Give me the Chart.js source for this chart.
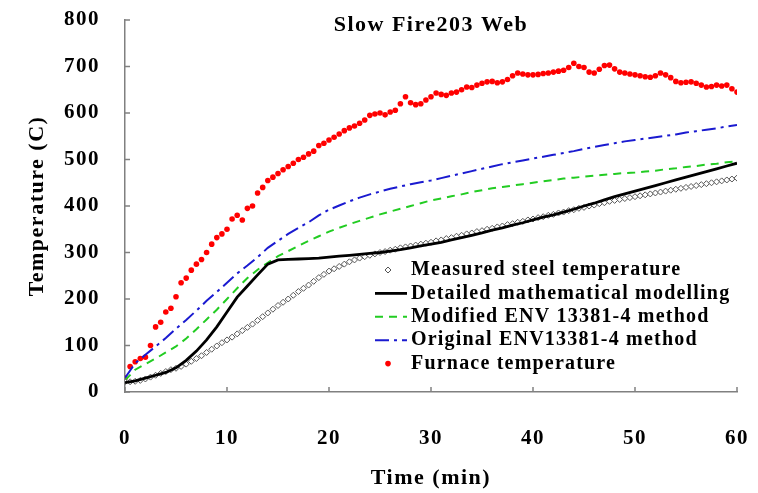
<!DOCTYPE html>
<html>
<head>
<meta charset="utf-8">
<script src="https://cdn.jsdelivr.net/npm/chart.js@4.4.1/dist/chart.umd.min.js"></script>
<style>
  html, body { margin: 0; padding: 0; background: #fff; }
  #wrap { width: 758px; height: 493px; }
</style>
</head>
<body>
<div id="wrap"><canvas id="chart" width="758" height="493"></canvas></div>
<script>
// Slow fire test - web temperature vs time

const chartTitle = "Slow Fire203 Web"
const xTitle = "Time (min)"
const yTitle = "Temperature (C)"
const xTicks = [0, 10, 20, 30, 40, 50, 60]
const yTicks = [0, 100, 200, 300, 400, 500, 600, 700, 800]

const seriesNames = [
  "Measured steel temperature",
  "Detailed mathematical modelling",
  "Modified ENV 13381-4 method",
  "Original ENV13381-4 method",
  "Furnace temperature",
]

// measurements, one reading every half minute
const sampleStep = 0.5
const measuredSteel = [
  22, 22, 23, 25, 28, 32, 36, 40, 44, 48,
  51, 55, 60, 66, 72, 78, 85, 92, 99, 106,
  112, 118, 125, 132, 139, 146, 154, 162, 170, 178,
  186, 193, 200, 208, 216, 223, 230, 238, 246, 253,
  260, 265, 270, 275, 280, 284, 288, 291, 294, 297,
  300, 302, 305, 307, 310, 312, 314, 316, 318, 320,
  322, 325, 327, 330, 332, 335, 337, 340, 342, 345,
  347, 350, 352, 355, 357, 360, 362, 365, 367, 370,
  372, 375, 377, 380, 382, 385, 387, 390, 392, 395,
  397, 400, 402, 405, 407, 410, 412, 414, 416, 418,
  420, 422, 424, 426, 428, 430, 432, 434, 436, 438,
  440, 442, 444, 446, 448, 450, 452, 454, 456, 458,
  460,
]
const furnaceTemp = [
  30, 55, 65, 72, 75, 100, 140, 150, 172, 180,
  205, 235, 245, 262, 275, 285, 300, 318, 332, 340,
  350, 372, 380, 370, 395, 400, 428, 440, 455, 462,
  470, 478, 485, 492, 500, 505, 512, 518, 530, 535,
  542, 548, 555, 562, 568, 572, 578, 585, 595, 598,
  600, 596, 602, 606, 620, 635, 622, 618, 620, 628,
  635, 643, 640, 638, 643, 645, 650, 656, 655, 660,
  664, 667, 668, 665, 667, 672, 680, 686, 684, 682,
  682, 683, 685, 686, 688, 690, 692, 698, 707, 700,
  698, 688, 686, 694, 702, 703, 695, 688, 686, 684,
  682, 680, 678, 677, 680, 686, 682, 676, 668, 665,
  666, 667, 664, 660, 656, 657, 660, 658, 660, 652,
  645,
]

// model results, one value per minute
const modelStep = 1
const detailedModel = [
  20, 24, 30, 36, 42, 52, 68, 88, 112, 140,
  172, 204, 228, 252, 275, 284, 285, 286, 287, 288,
  290, 292, 294, 296, 298, 300, 303, 306, 310, 314,
  318, 322, 327, 332, 337, 342, 348, 353, 359, 364,
  370, 376, 381, 387, 393, 400, 406, 413, 420, 426,
  432, 438, 444, 450, 456, 462, 468, 474, 480, 486,
  492,
]
const modifiedEnv = [
  25, 48, 60, 72, 85, 98, 115, 135, 156, 177,
  200, 223, 245, 263, 278, 292, 303, 314, 325, 335,
  345, 353, 361, 368, 375, 382, 388, 394, 400, 406,
  412, 416, 421, 425, 430, 434, 438, 441, 444, 447,
  450, 453, 456, 459, 461, 463, 465, 467, 469, 471,
  472, 474, 476, 479, 481, 484, 486, 489, 491, 494,
  496,
]
const originalEnv = [
  30, 62, 80, 98, 116, 136, 155, 175, 196, 215,
  235, 255, 272, 290, 310, 325, 340, 353, 365, 380,
  392, 401, 410, 418, 425, 431, 437, 442, 447, 451,
  455, 460, 465, 470, 475, 480, 485, 490, 494, 498,
  502, 506, 510, 514, 518, 523, 527, 531, 535, 539,
  542, 545, 548, 551, 554, 558, 561, 564, 567, 571,
  574,
]

const serif = "'Liberation Serif', 'Times New Roman', serif"

const toPoints = (values, step) => values.map((v, i) => ({ x: i * step, y: v }))

// no extra room for overhanging tick labels
const noScalePadding = s => {
  s.paddingTop = 0
  s.paddingBottom = 0
  s.paddingLeft = 0
  s.paddingRight = 0
}

// the source picture has wide-set lettering
const spacing = {
  id: "spacing",
  beforeDraw(chart) { chart.ctx.letterSpacing = "1.5px" },
  afterDraw(chart) { chart.ctx.letterSpacing = "0px" },
}

// tick marks point into the plot
const insideTicks = {
  id: "insideTicks",
  afterDraw(chart) {
    const { ctx, chartArea, scales } = chart
    ctx.save()
    ctx.strokeStyle = "#808080"
    ctx.lineWidth = 1.5
    scales.x.ticks.forEach(t => {
      const px = scales.x.getPixelForValue(t.value)
      ctx.beginPath()
      ctx.moveTo(px, chartArea.bottom)
      ctx.lineTo(px, chartArea.bottom - 5)
      ctx.stroke()
    })
    scales.y.ticks.forEach(t => {
      const py = scales.y.getPixelForValue(t.value)
      ctx.beginPath()
      ctx.moveTo(chartArea.left, py)
      ctx.lineTo(chartArea.left + 5, py)
      ctx.stroke()
    })
    ctx.restore()
  }
}

// title sits inside the plot area
const innerTitle = {
  id: "innerTitle",
  afterDraw(chart) {
    const { ctx, chartArea } = chart
    ctx.save()
    ctx.fillStyle = "#000"
    ctx.font = "bold 22px " + serif
    ctx.letterSpacing = "1.5px"
    ctx.textAlign = "center"
    ctx.textBaseline = "middle"
    ctx.fillText(chartTitle, (chartArea.left + chartArea.right) / 2, chartArea.top + 5)
    ctx.restore()
  }
}

// legend box in the lower right of the plot
const innerLegend = {
  id: "innerLegend",
  afterDraw(chart) {
    const { ctx, chartArea } = chart
    const x0 = chartArea.left + 250
    const y0 = chartArea.top + 250
    const rowH = 23.4
    ctx.save()
    ctx.font = "bold 20px " + serif
    ctx.letterSpacing = "1.2px"
    ctx.textBaseline = "middle"
    chart.data.datasets.forEach((ds, i) => {
      const y = y0 + i * rowH
      const cx = x0 + 13
      if (ds.showLine === false) {
        ctx.fillStyle = ds.pointBackgroundColor
        ctx.beginPath()
        ctx.arc(cx, y, 2.8, 0, Math.PI * 2)
        ctx.fill()
      } else if (ds.borderWidth === 0) {
        ctx.strokeStyle = ds.pointBorderColor
        ctx.lineWidth = 1
        ctx.beginPath()
        ctx.moveTo(cx, y - 3)
        ctx.lineTo(cx + 3, y)
        ctx.lineTo(cx, y + 3)
        ctx.lineTo(cx - 3, y)
        ctx.closePath()
        ctx.stroke()
      } else {
        ctx.strokeStyle = ds.borderColor
        ctx.lineWidth = ds.borderWidth
        ctx.setLineDash(ds.borderDash || [])
        ctx.beginPath()
        ctx.moveTo(x0, y)
        ctx.lineTo(x0 + 32, y)
        ctx.stroke()
        ctx.setLineDash([])
      }
      ctx.fillStyle = "#000"
      ctx.fillText(ds.label, x0 + 36, y)
    })
    ctx.restore()
  }
}

new Chart(document.getElementById("chart"), {
  type: "line",
  plugins: [spacing, insideTicks, innerTitle, innerLegend],
  data: {
    datasets: [
      {
        label: seriesNames[0],
        data: toPoints(measuredSteel, sampleStep),
        showLine: true,
        borderWidth: 0,
        borderColor: "rgba(0,0,0,0)",
        pointStyle: "rectRot",
        pointRadius: 3,
        pointBorderWidth: 1,
        pointBorderColor: "#555",
        pointBackgroundColor: "#fff",
        order: 1,
      },
      {
        label: seriesNames[1],
        data: toPoints(detailedModel, modelStep),
        borderColor: "#000",
        borderWidth: 2.8,
        pointRadius: 0,
        order: 0,
      },
      {
        label: seriesNames[2],
        data: toPoints(modifiedEnv, modelStep),
        borderColor: "#22cc22",
        borderWidth: 2,
        borderDash: [8, 6],
        pointRadius: 0,
        order: 1,
      },
      {
        label: seriesNames[3],
        data: toPoints(originalEnv, modelStep),
        borderColor: "#1a1ad0",
        borderWidth: 2,
        borderDash: [14, 5, 3, 5],
        pointRadius: 0,
        order: 1,
      },
      {
        label: seriesNames[4],
        data: toPoints(furnaceTemp, sampleStep),
        showLine: false,
        pointStyle: "circle",
        pointRadius: 2.8,
        pointBorderWidth: 0,
        pointBackgroundColor: "#ff0000",
        order: 1,
      },
    ]
  },
  options: {
    responsive: false,
    animation: false,
    layout: { padding: { top: 20, right: 21, left: 0, bottom: 0 } },
    plugins: {
      legend: { display: false },
      tooltip: { enabled: false },
      title: { display: false },
    },
    scales: {
      x: {
        type: "linear",
        min: 0,
        max: 60,
        afterBuildTicks: s => { s.ticks = xTicks.map(v => ({ value: v })) },
        afterFit: s => { s.height = 101; noScalePadding(s) },
        grid: { display: false, drawTicks: false },
        border: { display: true, color: "#808080", width: 1.5 },
        ticks: { padding: 34, color: "#000", font: { family: serif, size: 21, weight: "bold" } },
        title: {
          display: true, text: xTitle, color: "#000",
          font: { family: serif, size: 22, weight: "bold" },
          padding: { top: 0, bottom: 1 },
        },
      },
      y: {
        min: 0,
        max: 800,
        afterBuildTicks: s => { s.ticks = yTicks.map(v => ({ value: v })) },
        afterFit: s => { s.width = 125; noScalePadding(s) },
        grid: { display: false, drawTicks: false },
        border: { display: true, color: "#808080", width: 1.5 },
        ticks: { padding: 25, color: "#000", font: { family: serif, size: 21, weight: "bold" } },
        title: {
          display: true, text: yTitle, color: "#000",
          font: { family: serif, size: 22, weight: "bold" },
          padding: { top: 24, bottom: 0 },
        },
      },
    },
  },
})
</script>
</body>
</html>
